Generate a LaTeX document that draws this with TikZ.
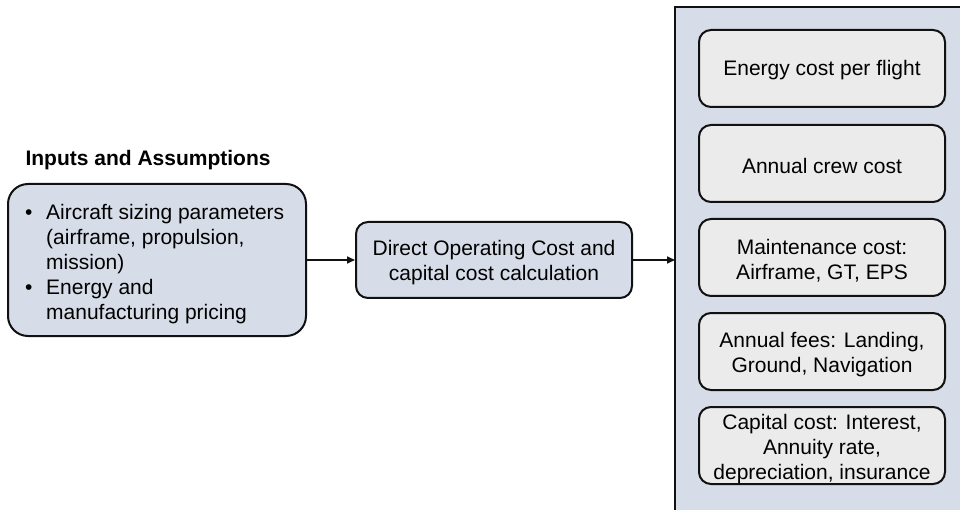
\documentclass[tikz,border=0pt]{standalone}
\usepackage{fontspec}
\setmainfont{Liberation Sans}
\usetikzlibrary{arrows.meta}
\definecolor{bluefill}{HTML}{D6DDE8}
\definecolor{grayfill}{HTML}{EBEBEB}
\definecolor{edge}{HTML}{111111}
\begin{document}
\begin{tikzpicture}[x=1pt,y=-1pt,
  txt/.style={font=\fontsize{21}{25}\selectfont},
  bluebox/.style={draw=edge, line width=2pt, fill=bluefill, inner sep=0pt},
  graybox/.style={draw=edge, line width=2pt, fill=grayfill, rounded corners=12pt, inner sep=0pt, minimum width=246pt, minimum height=77pt},
  boxtext/.style={txt, align=center, inner sep=0pt},
  conn/.style={line width=1.6pt, draw=edge, -{Triangle[length=8pt,width=7pt]}}]
\useasboundingbox (0,0) rectangle (960,510);
% container
\path[bluebox] (675,7) rectangle (985,525);
\coordinate (cont) at (675,260);
% title
\node[txt, font=\fontsize{21}{25}\selectfont\bfseries, anchor=west] (title) at (22,160) {Inputs and Assumptions};
% left box
\node[bluebox, rounded corners=20pt, minimum width=298pt, minimum height=152pt, anchor=north west] (inp) at (7,183) {};
\node[txt, anchor=north west, inner sep=0pt] (inptxt) at (25,202) {%
  \begin{tabular}{@{}p{21pt}@{}l@{}}
  \textbullet & Aircraft sizing parameters\\
  & (airframe, propulsion,\\
  & mission)\\
  \textbullet & Energy and\\
  & manufacturing pricing
  \end{tabular}};
% middle box
\node[bluebox, rounded corners=12pt, minimum width=276pt, minimum height=76pt] (doc) at (494,260) {};
\node[boxtext] (doct) at ([yshift=-3pt]doc.center) {Direct Operating Cost and\\capital cost calculation};
% inner boxes
\node[graybox] (b1) at (822,68.5) {};
\node[graybox] (b2) at (822,163.5) {};
\node[graybox] (b3) at (822,257.5) {};
\node[graybox] (b4) at (822,351.5) {};
\node[graybox] (b5) at (822,445.5) {};
\node[boxtext] (b1t) at ([yshift=-2pt]b1.center) {Energy cost per flight};
\node[boxtext] (b2t) at ([yshift=-2pt]b2.center) {Annual crew cost};
\node[boxtext] (b3t) at ([yshift=-3pt]b3.center) {Maintenance cost:\\Airframe, GT, EPS};
\node[boxtext] (b4t) at ([yshift=-3pt]b4.center) {Annual fees: Landing,\\Ground, Navigation};
\node[boxtext] (b5t) at ([yshift=-4pt]b5.center) {Capital cost: Interest,\\Annuity rate,\\depreciation, insurance};
% connectors
\draw[conn] (inp.east |- doc.west) -- (doc.west);
\draw[conn] (doc.east) -- (cont);
\end{tikzpicture}
\end{document}
